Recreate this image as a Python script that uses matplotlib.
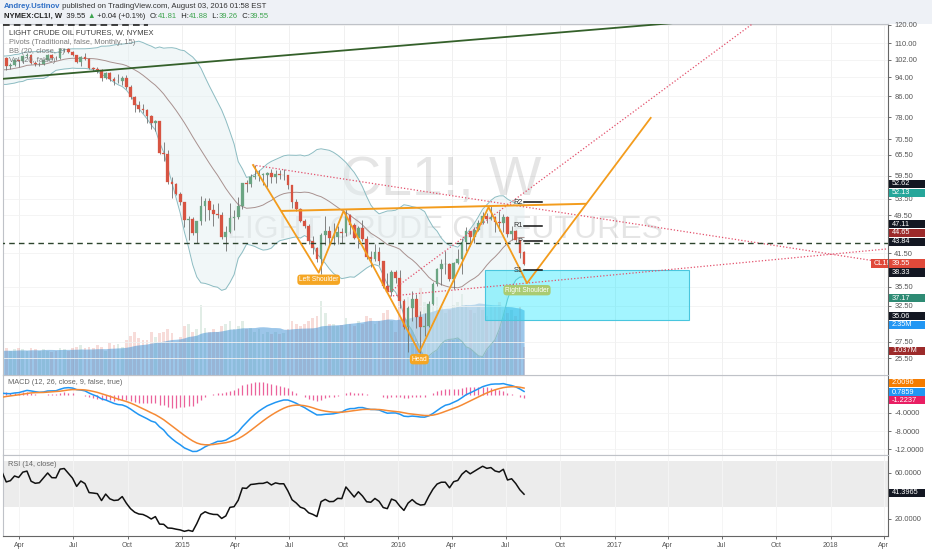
import numpy as np
import pandas as pd
import matplotlib
matplotlib.use('Agg')
import matplotlib.pyplot as plt
import matplotlib.dates as mdates
from matplotlib.patches import Rectangle
from matplotlib.ticker import NullLocator

plt.rcParams['font.family'] = ['Liberation Sans', 'DejaVu Sans']

# ---------------------------------------------------------------- data
PRE_START = '2013-06-03'          # weekly history before the visible range (for indicators)
PRE_CLOSE = [96.0, 97.85, 93.69, 96.56, 103.22, 105.95, 108.05, 104.70, 106.94, 106.03,
             107.46, 106.42, 107.65, 110.53, 108.21, 104.67, 102.87, 103.84, 102.02, 100.81,
             97.85, 94.61, 94.60, 93.84, 94.84, 92.72, 97.65, 96.60, 99.32, 100.32,
             93.96, 92.72, 94.37, 96.64, 97.49, 99.88, 100.30, 102.20, 102.59]
PRE_VOLUME = [0.85, 0.95, 0.9, 0.8, 0.9, 1.0, 0.85, 0.9, 0.95, 0.8,
              0.75, 0.9, 1.0, 0.95, 0.9, 0.85, 0.95, 1.0, 0.9]

START = '2014-03-03'
CLOSE = [
    # 2014
    102.58, 98.89, 99.46, 101.67, 101.14,
    103.74, 104.30, 100.60, 99.76,
    99.99, 102.02, 104.35, 102.71,
    102.66, 106.91, 107.26, 105.74, 104.06,
    100.83, 103.13, 102.09, 97.88,
    97.65, 97.35, 93.65, 95.96,
    93.29, 92.27, 92.41, 93.54, 89.74,
    85.82, 82.75, 81.01, 80.54,
    78.65, 75.82, 76.51, 66.15,
    65.84, 57.81, 57.13, 54.73, 52.69,
    # 2015
    48.36, 48.69, 45.59, 48.24,
    51.69, 52.78, 50.81, 49.76,
    49.61, 44.84, 45.72, 48.87, 49.14,
    51.64, 57.38, 57.15, 59.15,
    59.39, 59.69, 59.72, 60.30,
    59.13, 59.96, 59.61, 59.63, 56.93,
    52.74, 50.89, 48.14, 47.12,
    43.87, 42.50, 40.45, 45.22, 46.05,
    44.63, 44.68, 45.70, 45.54,
    49.63, 47.26, 44.60, 46.59,
    44.29, 40.74, 40.39, 41.71, 39.97,
    35.62, 34.73, 38.10, 37.04,
    # 2016
    33.16, 29.42, 32.19, 33.62,
    30.89, 29.44, 29.64, 32.78, 35.92,
    38.50, 39.44, 39.46, 36.79,
    39.72, 40.36, 43.73, 45.92,
    44.66, 46.21, 47.75, 49.33, 48.62,
    49.07, 47.98, 47.64, 48.99,
    45.41, 45.95, 44.19, 41.60,
    39.55]
HIGH = [
    105.22, 103.0, 100.5, 102.2, 102.0,
    104.0, 105.0, 104.5, 101.5,
    101.0, 102.4, 104.5, 104.6,
    103.5, 107.7, 107.7, 107.5, 106.0,
    104.2, 103.9, 105.1, 102.6,
    98.6, 98.6, 97.5, 96.1,
    96.2, 93.9, 95.2, 94.4, 94.9,
    90.6, 86.0, 84.0, 82.8,
    81.1, 78.9, 77.1, 76.7,
    69.5, 67.0, 59.0, 57.6, 55.1,
    52.7, 49.3, 49.0, 48.3,
    54.2, 53.6, 53.6, 52.1,
    52.5, 50.2, 47.0, 52.5, 50.8,
    53.9, 57.4, 58.4, 59.9,
    62.6, 61.1, 60.3, 60.5,
    61.5, 61.2, 61.0, 61.4, 59.7,
    57.0, 53.3, 51.2, 48.7,
    47.5, 45.0, 42.8, 45.5, 49.3,
    47.0, 47.7, 47.0, 46.6,
    50.9, 49.8, 47.8, 47.0,
    48.4, 45.0, 42.0, 43.3, 42.7,
    40.0, 37.8, 38.3, 38.3,
    38.4, 33.6, 32.4, 34.8,
    34.4, 31.8, 31.5, 33.2, 36.3,
    38.7, 40.4, 41.9, 39.6,
    39.8, 42.4, 44.5, 46.8,
    46.0, 46.8, 48.5, 50.2, 50.0,
    51.67, 49.3, 50.5, 49.9,
    49.4, 47.0, 46.2, 44.2,
    41.88]
LOW = [
    101.1, 97.4, 97.7, 98.9, 98.6,
    100.6, 102.9, 100.1, 98.9,
    98.9, 99.5, 101.6, 102.0,
    101.7, 102.3, 105.6, 105.0, 103.6,
    100.5, 98.8, 101.8, 97.5,
    96.6, 95.7, 92.5, 93.0,
    92.5, 90.6, 91.3, 90.6, 88.9,
    85.0, 79.8, 80.0, 79.4,
    75.8, 73.8, 73.3, 65.7,
    63.7, 57.3, 53.6, 54.5, 52.0,
    46.8, 44.2, 45.1, 43.6,
    47.4, 48.1, 48.4, 47.0,
    48.9, 44.4, 42.0, 45.5, 46.3,
    48.6, 50.9, 55.1, 56.4,
    58.5, 58.1, 57.0, 56.5,
    57.4, 57.6, 58.5, 58.4, 56.0,
    51.3, 50.5, 48.0, 46.7,
    43.4, 41.4, 39.9, 37.75, 43.2,
    43.2, 43.2, 43.3, 43.6,
    45.0, 45.3, 44.3, 42.6,
    44.0, 40.4, 38.9, 40.0, 39.3,
    35.3, 34.5, 34.0, 36.2,
    32.1, 29.2, 26.2, 30.3,
    29.3, 26.05, 28.2, 29.5, 32.6,
    35.7, 35.8, 37.6, 36.4,
    35.2, 39.4, 37.6, 42.0,
    43.0, 43.5, 46.0, 47.5, 47.7,
    48.4, 45.8, 46.1, 45.8,
    44.8, 44.1, 43.8, 40.6,
    39.26]
LAST_OPEN = 41.81
VOLUME = [  # millions of contracts
    1.1, 1.0, 0.9, 0.95, 1.0,
    0.95, 0.9, 1.0, 0.95,
    0.9, 0.95, 0.9, 0.85,
    0.9, 1.0, 0.95, 0.9, 1.0,
    1.05, 1.1, 1.0, 1.05,
    1.0, 1.1, 1.05, 0.9,
    1.2, 1.1, 1.15, 1.05, 1.3,
    1.45, 1.6, 1.35, 1.3,
    1.3, 1.6, 1.4, 1.55,
    1.6, 1.7, 1.55, 1.2, 1.4,
    1.8, 1.9, 1.6, 1.7,
    2.6, 1.75, 1.6, 1.7,
    1.6, 1.8, 1.9, 2.0, 1.7,
    1.8, 2.0, 1.7, 1.75,
    1.6, 1.7, 1.5, 1.6,
    1.5, 1.6, 1.5, 1.55, 1.7,
    2.0, 1.9, 1.8, 1.9,
    2.0, 2.1, 2.2, 2.75, 2.3,
    1.9, 1.9, 1.8, 1.85,
    2.1, 1.9, 1.8, 2.0,
    1.9, 2.2, 2.1, 1.9, 2.0,
    2.3, 2.4, 2.0, 1.6,
    2.7, 2.8, 2.9, 2.6,
    2.8, 3.2, 2.7, 2.6, 2.8,
    2.9, 2.5, 2.3, 2.4,
    2.6, 2.7, 3.0, 2.6,
    2.4, 2.3, 2.5, 2.4, 2.2,
    2.6, 2.5, 2.7, 2.4,
    2.3, 2.4, 2.2, 2.5,
    1.037]

# drawings (anchor dates / prices)
TREND_GREEN = (['2014-03-01', '2017-06-01'], [93.2, 122.3])
DOT_DOWN = (['2015-05-01', '2018-04-08'], [62.5, 39.66])
DOT_STEEP = (['2015-12-18', '2017-10-01'], [34.66, 130.6])
DOT_SHALLOW = (['2015-12-18', '2018-04-08'], [34.0, 42.35])
DASH_H = (['2014-01-01', '2018-06-01'], [43.5, 43.5])
DASH_TOP = (['2014-03-05', '2014-11-04'], [119.8, 119.8])
HS_DATES = ['2015-05-01', '2015-08-20', '2015-10-01', '2016-02-06', '2016-06-02', '2016-08-06', '2017-03-03']
HS_PRICES = [62.5, 37.9, 50.5, 26.2, 51.4, 36.1, 77.8]
NECK = (['2015-06-19', '2016-11-13'], [50.5, 52.2])
HS_LABELS = [(1, 'Left Shoulder', '#f5a623'), (3, 'Head', '#f5a623'), (5, 'Right Shoulder', '#aacb72')]
BOX_DATES = ['2016-05-27', '2017-05-06']
BOX_PRICES = [30.4, 38.4]
PIVOT_PERIOD = ['2016-08-01', '2016-08-31']
PIVOT_NAMES = ['R2', 'R1', 'P', 'S1']
PIVOT_VALUES = [52.62, 47.11, 43.84, 38.33]

PRICE_TICKS = [120, 110, 102, 94, 86, 78, 70.5, 65.5, 59.5, 53.5, 49.5, 41.5, 35.5, 32.5, 27.5, 25.5]
MACD_TICKS = [-4, -8, -12]
RSI_TICKS = [60, 20]
XTICK_DATES = ['2014-04-01', '2014-07-01', '2014-10-01', '2015-01-01', '2015-04-01', '2015-07-01',
               '2015-10-01', '2016-01-01', '2016-04-01', '2016-07-01', '2016-10-01', '2017-01-01',
               '2017-04-01', '2017-07-01', '2017-10-01', '2018-01-01', '2018-04-01']
XTICK_LABELS = ['Apr', 'Jul', 'Oct', '2015', 'Apr', 'Jul', 'Oct', '2016', 'Apr', 'Jul', 'Oct',
                '2017', 'Apr', 'Jul', 'Oct', '2018', 'Apr']

# right-axis value badges: (text, colour)
MAIN_BADGES = [('52.62', '#131722'), ('52.13', '#26a69a'), ('47.11', '#131722'), ('44.65', '#9c2a2a'),
               ('43.84', '#131722'), ('39.55', '#e0493a'), ('38.33', '#131722'), ('37.17', '#2e8b74'),
               ('35.06', '#131722'), ('2.35M', '#2196f3'), ('1.037M', '#9c2a2a')]
MACD_BADGES = [('2.0096', '#f57c00'), ('0.7859', '#2196f3'), ('-1.2237', '#e91e63')]
RSI_BADGES = [('41.3965', '#131722')]

# ---------------------------------------------------------------- layout helpers
W, H = 932, 550
fig = plt.figure(figsize=(W / 100, H / 100), dpi=100, facecolor='white')
XL, XR = 3, 888
REF = mdates.date2num(pd.Timestamp('2015-01-01'))
PXD = 0.5918  # pixels per day
XLIM = (REF + (XL - 182) / PXD, REF + (XR - 182) / PXD)


def add_ax(x0, y0, x1, y1):
    return fig.add_axes([x0 / W, 1 - y1 / H, (x1 - x0) / W, (y1 - y0) / H])


def dn(d):
    return mdates.date2num(pd.to_datetime(d))


# header band
fig.patches.append(Rectangle((0, 1 - 23.5 / H), 1, 23.5 / H, transform=fig.transFigure,
                             facecolor='#eef1f6', edgecolor='none', zorder=0))

vol_ax = add_ax(XL, 23.5, XR, 375)
ax = add_ax(XL, 23.5, XR, 375)
macd_ax = add_ax(XL, 375, XR, 455)
rsi_ax = add_ax(XL, 455, XR, 536)
vol_ax.set_zorder(1)
ax.set_zorder(2)
ax.patch.set_visible(False)

# ---------------------------------------------------------------- series
pre_dates = pd.date_range(PRE_START, periods=len(PRE_CLOSE), freq='W-MON')
dates = pd.date_range(START, periods=len(CLOSE), freq='W-MON')
all_dates = pre_dates.append(dates)
xa = mdates.date2num(all_dates.to_pydatetime())
xv = mdates.date2num(dates.to_pydatetime())

c = np.array(CLOSE)
o = np.r_[PRE_CLOSE[-1], c[:-1]]
o[-1] = LAST_OPEN
hi = np.maximum(np.array(HIGH), np.maximum(o, c))
lo = np.minimum(np.array(LOW), np.minimum(o, c))

cs = pd.Series(PRE_CLOSE + CLOSE)
mid = cs.rolling(20).mean()
sd = cs.rolling(20).std(ddof=0)
up_b = mid + 2 * sd
lo_b = mid - 2 * sd

ema12 = cs.ewm(span=12, adjust=False).mean()
ema26 = cs.ewm(span=26, adjust=False).mean()
macd = ema12 - ema26
signal = macd.ewm(span=9, adjust=False).mean()
hist = macd - signal

delta = cs.diff()
gain = delta.clip(lower=0).ewm(alpha=1 / 14, adjust=False).mean()
loss = (-delta.clip(upper=0)).ewm(alpha=1 / 14, adjust=False).mean()
rsi = 100 - 100 / (1 + gain / loss)

vs = pd.Series(PRE_VOLUME + VOLUME)
vol_ma = vs.rolling(20, min_periods=1).mean().values[len(PRE_VOLUME):]

UP, DN = '#6ba583', '#d75442'
up_mask = c >= o

# ---------------------------------------------------------------- volume pane (behind)
vol_ax.set_xlim(*XLIM)
vol_ax.set_ylim(0, 13.0)
for d in XTICK_DATES:
    vol_ax.axvline(dn(d), color='#f0f0f0', lw=0.7, zorder=0)
vol_cols = np.where(up_mask, UP, DN)
vol_ax.bar(xv, VOLUME, width=4.6, color=vol_cols, alpha=0.2, lw=0, zorder=1)
vol_ax.fill_between(xv, 0, vol_ma, color='#3b8fd4', alpha=0.5, lw=0, zorder=2)
vol_ax.set_xticks([])
vol_ax.set_yticks([])
for s in vol_ax.spines.values():
    s.set_visible(False)

# ---------------------------------------------------------------- main price pane
ax.set_yscale('log')
ax.set_xlim(*XLIM)
ax.set_ylim(23.57, 120.6)
for v in PRICE_TICKS:
    ax.axhline(v, color='#f2f2f2', lw=0.6, zorder=0.2)

ax.text(0.495, 0.552, 'CL1!, W', transform=ax.transAxes, fontsize=40, color='#000000', alpha=0.1,
        ha='center', va='center', zorder=0.5)
ax.text(0.499, 0.4125, 'LIGHT CRUDE OIL FUTURES', transform=ax.transAxes, fontsize=23, color='#000000',
        alpha=0.1, ha='center', va='center', zorder=0.5)

ax.fill_between(xa, lo_b, up_b, color='#e2eef1', alpha=0.45, lw=0, zorder=2)
ax.plot(xa, up_b, color='#8cbcc2', lw=0.7, zorder=2.5)
ax.plot(xa, lo_b, color='#8cbcc2', lw=0.7, zorder=2.5)
ax.plot(xa, mid, color='#a8918f', lw=0.7, zorder=2.5)

# drawings
ax.plot([dn(d) for d in TREND_GREEN[0]], TREND_GREEN[1], color='#34602a', lw=1.3, zorder=6)
for ln_ in (DOT_DOWN, DOT_STEEP, DOT_SHALLOW):
    ax.plot([dn(d) for d in ln_[0]], ln_[1], color='#e3506b', lw=0.9, ls=(0, (1, 1.6)), zorder=6)
ax.plot([dn(d) for d in DASH_H[0]], DASH_H[1], color='#2d442d', lw=1.0, ls=(0, (4, 3)), zorder=6)
ax.plot([dn(d) for d in DASH_TOP[0]], DASH_TOP[1], color='#222222', lw=1.2, ls=(0, (4, 2.5)), zorder=6)

bx0, bx1 = dn(BOX_DATES[0]), dn(BOX_DATES[1])
ax.add_patch(Rectangle((bx0, BOX_PRICES[0]), bx1 - bx0, BOX_PRICES[1] - BOX_PRICES[0],
                       facecolor='#00e5ff', alpha=0.36, edgecolor='none', zorder=3))
ax.add_patch(Rectangle((bx0, BOX_PRICES[0]), bx1 - bx0, BOX_PRICES[1] - BOX_PRICES[0],
                       facecolor='none', edgecolor='#49c6de', lw=0.8, zorder=3.1))

# candles
body_lo = np.minimum(o, c)
body_hi = np.maximum(np.maximum(o, c), body_lo * 1.003)
cols = np.where(up_mask, UP, DN)
ax.vlines(xv, lo, hi, color='#6f6f6f', lw=0.6, zorder=4)
ax.bar(xv, body_hi - body_lo, bottom=body_lo, width=4.6, color=cols, edgecolor=cols, lw=0.2, zorder=5)

ax.plot([dn(d) for d in NECK[0]], NECK[1], color='#f39c1d', lw=1.4, zorder=7)
hs_x = [dn(d) for d in HS_DATES]
ax.plot(hs_x, HS_PRICES, color='#f39c1d', lw=1.3, zorder=7)

# pivots
px0, px1 = dn(PIVOT_PERIOD[0]), dn(PIVOT_PERIOD[1])
for name, val in zip(PIVOT_NAMES, PIVOT_VALUES):
    ax.plot([px0, px1], [val, val], color='#111111', lw=1.1, zorder=7)
    ax.annotate(name, (px0, val), xytext=(-1.5, 0), textcoords='offset pixels', ha='right', va='center',
                fontsize=5.2, color='#333333', zorder=7)

for idx, txt, colr in HS_LABELS:
    ax.annotate(txt, (hs_x[idx], HS_PRICES[idx]), xytext=(0, -7), textcoords='offset pixels',
                ha='center', va='center', fontsize=4.8, color='white', zorder=9,
                bbox=dict(boxstyle='round,pad=0.25,rounding_size=0.5', fc=colr, ec='none'))

# legend lines
legend_lines = [('LIGHT CRUDE OIL FUTURES, W, NYMEX', '#3c3c3c', 33),
                ('Pivots (Traditional, false, Monthly, 15)', '#7a7a7a', 43),
                ('BB (20, close, 2)', '#7a7a7a', 52),
                ('Vol (20, false)', '#7a7a7a', 61)]
for txt, colr, y in legend_lines:
    fig.text(9 / W, 1 - y / H, txt, fontsize=5.4, color=colr, va='center', ha='left', zorder=10)

# ---------------------------------------------------------------- MACD pane
macd_ax.set_xlim(*XLIM)
macd_ax.set_ylim(-13.33, 4.44)
for d in XTICK_DATES:
    macd_ax.axvline(dn(d), color='#f2f2f2', lw=0.7, zorder=0)
for v in MACD_TICKS:
    macd_ax.axhline(v, color='#f4f4f4', lw=0.6, zorder=0)
macd_ax.vlines(xa, 0, hist, color='#e8478a', lw=0.9, alpha=0.85, zorder=2)
macd_ax.plot(xa, macd, color='#2196f3', lw=1.1, zorder=3)
macd_ax.plot(xa, signal, color='#f58a35', lw=1.1, zorder=3)
fig.text(8 / W, 1 - 383 / H, 'MACD (12, 26, close, 9, false, true)', fontsize=5.3, color='#666666',
         va='center', ha='left', zorder=10)

# ---------------------------------------------------------------- RSI pane
rsi_ax.set_xlim(*XLIM)
rsi_ax.set_ylim(5.3, 75.3)
rsi_ax.axhspan(30, 70, color='#ececec', lw=0, zorder=0)
for d in XTICK_DATES:
    rsi_ax.axvline(dn(d), color='#f5f5f5', lw=0.7, zorder=0.5)
rsi_ax.plot(xa, rsi, color='#111111', lw=1.1, zorder=3)
fig.text(8 / W, 1 - 465 / H, 'RSI (14, close)', fontsize=5.3, color='#666666', va='center', ha='left',
         zorder=10)

# ---------------------------------------------------------------- axes styling
for a in (ax, macd_ax, rsi_ax):
    a.yaxis.tick_right()
    a.yaxis.set_minor_locator(NullLocator())
    a.tick_params(axis='y', which='major', length=2.5, width=0.6, color='#555555', labelsize=5.4,
                  labelcolor='#555555', pad=2)
    a.tick_params(axis='x', which='both', length=0)
    for s in ('left', 'top', 'bottom'):
        a.spines[s].set_color('#bfc2c8')
        a.spines[s].set_linewidth(0.8)
    a.spines['right'].set_color('#666666')
    a.spines['right'].set_linewidth(0.8)
    a.set_xticks([])

ax.set_yticks(PRICE_TICKS)
ax.set_yticklabels([f'{v:.2f}' for v in PRICE_TICKS])
macd_ax.set_yticks(MACD_TICKS)
macd_ax.set_yticklabels([f'{v:.4f}' for v in MACD_TICKS])
rsi_ax.set_yticks(RSI_TICKS)
rsi_ax.set_yticklabels([f'{v:.4f}' for v in RSI_TICKS])

rsi_ax.set_xticks([dn(d) for d in XTICK_DATES])
rsi_ax.set_xticklabels(XTICK_LABELS)
rsi_ax.tick_params(axis='x', length=2.5, width=0.6, color='#555555', labelsize=5.0, labelcolor='#555555', pad=2)
rsi_ax.spines['bottom'].set_color('#666666')

# ---------------------------------------------------------------- badges on the price scale
MAIN_BADGE_Y = [184, 193, 224, 233, 242, 263.7, 272.7, 298, 316, 325, 351]
MACD_BADGE_Y = [383, 392, 400]
RSI_BADGE_Y = [493]


def badge(y, text, colr, x0=889, w=36):
    fig.patches.append(Rectangle((x0 / W, 1 - (y + 4.4) / H), w / W, 8.8 / H, transform=fig.transFigure,
                                 facecolor=colr, edgecolor='none', zorder=20))
    fig.text((x0 + 3) / W, 1 - y / H, text, color='white', fontsize=5.3, va='center', ha='left', zorder=21)


for (t, col_), y in zip(MAIN_BADGES, MAIN_BADGE_Y):
    badge(y, t, col_)
for (t, col_), y in zip(MACD_BADGES, MACD_BADGE_Y):
    badge(y, t, col_)
for (t, col_), y in zip(RSI_BADGES, RSI_BADGE_Y):
    badge(y, t, col_)
badge(263.7, 'CL1!', '#e0493a', x0=871, w=17)

# ---------------------------------------------------------------- header text runs
renderer = fig.canvas.get_renderer()


def runs(x, y, parts, size=5.5):
    for txt, colr, weight in parts:
        t = fig.text(x / W, 1 - y / H, txt, color=colr, fontsize=size, fontweight=weight,
                     va='center', ha='left', zorder=30)
        x += t.get_window_extent(renderer=renderer).width


runs(4, 6.5, [('Andrey.Ustinov', '#2f6fc6', 'bold'),
              (' published on TradingView.com, August 03, 2016 01:58 EST', '#333333', 'normal')], size=5.6)
G = '#3ea44f'
runs(4, 16, [('NYMEX:CL1!, W', '#222222', 'bold'), ('  39.55 ', '#222222', 'normal'),
             ('\u25b2', G, 'normal'), (' +0.04 (+0.1%)  ', '#222222', 'normal'),
             ('O:', '#222222', 'normal'), ('41.81', G, 'normal'), ('  H:', '#222222', 'normal'),
             ('41.88', G, 'normal'), ('  L:', '#222222', 'normal'), ('39.26', G, 'normal'),
             ('  C:', '#222222', 'normal'), ('39.55', G, 'normal')], size=5.5)

fig.savefig('out.png', dpi=100, facecolor=fig.get_facecolor())
